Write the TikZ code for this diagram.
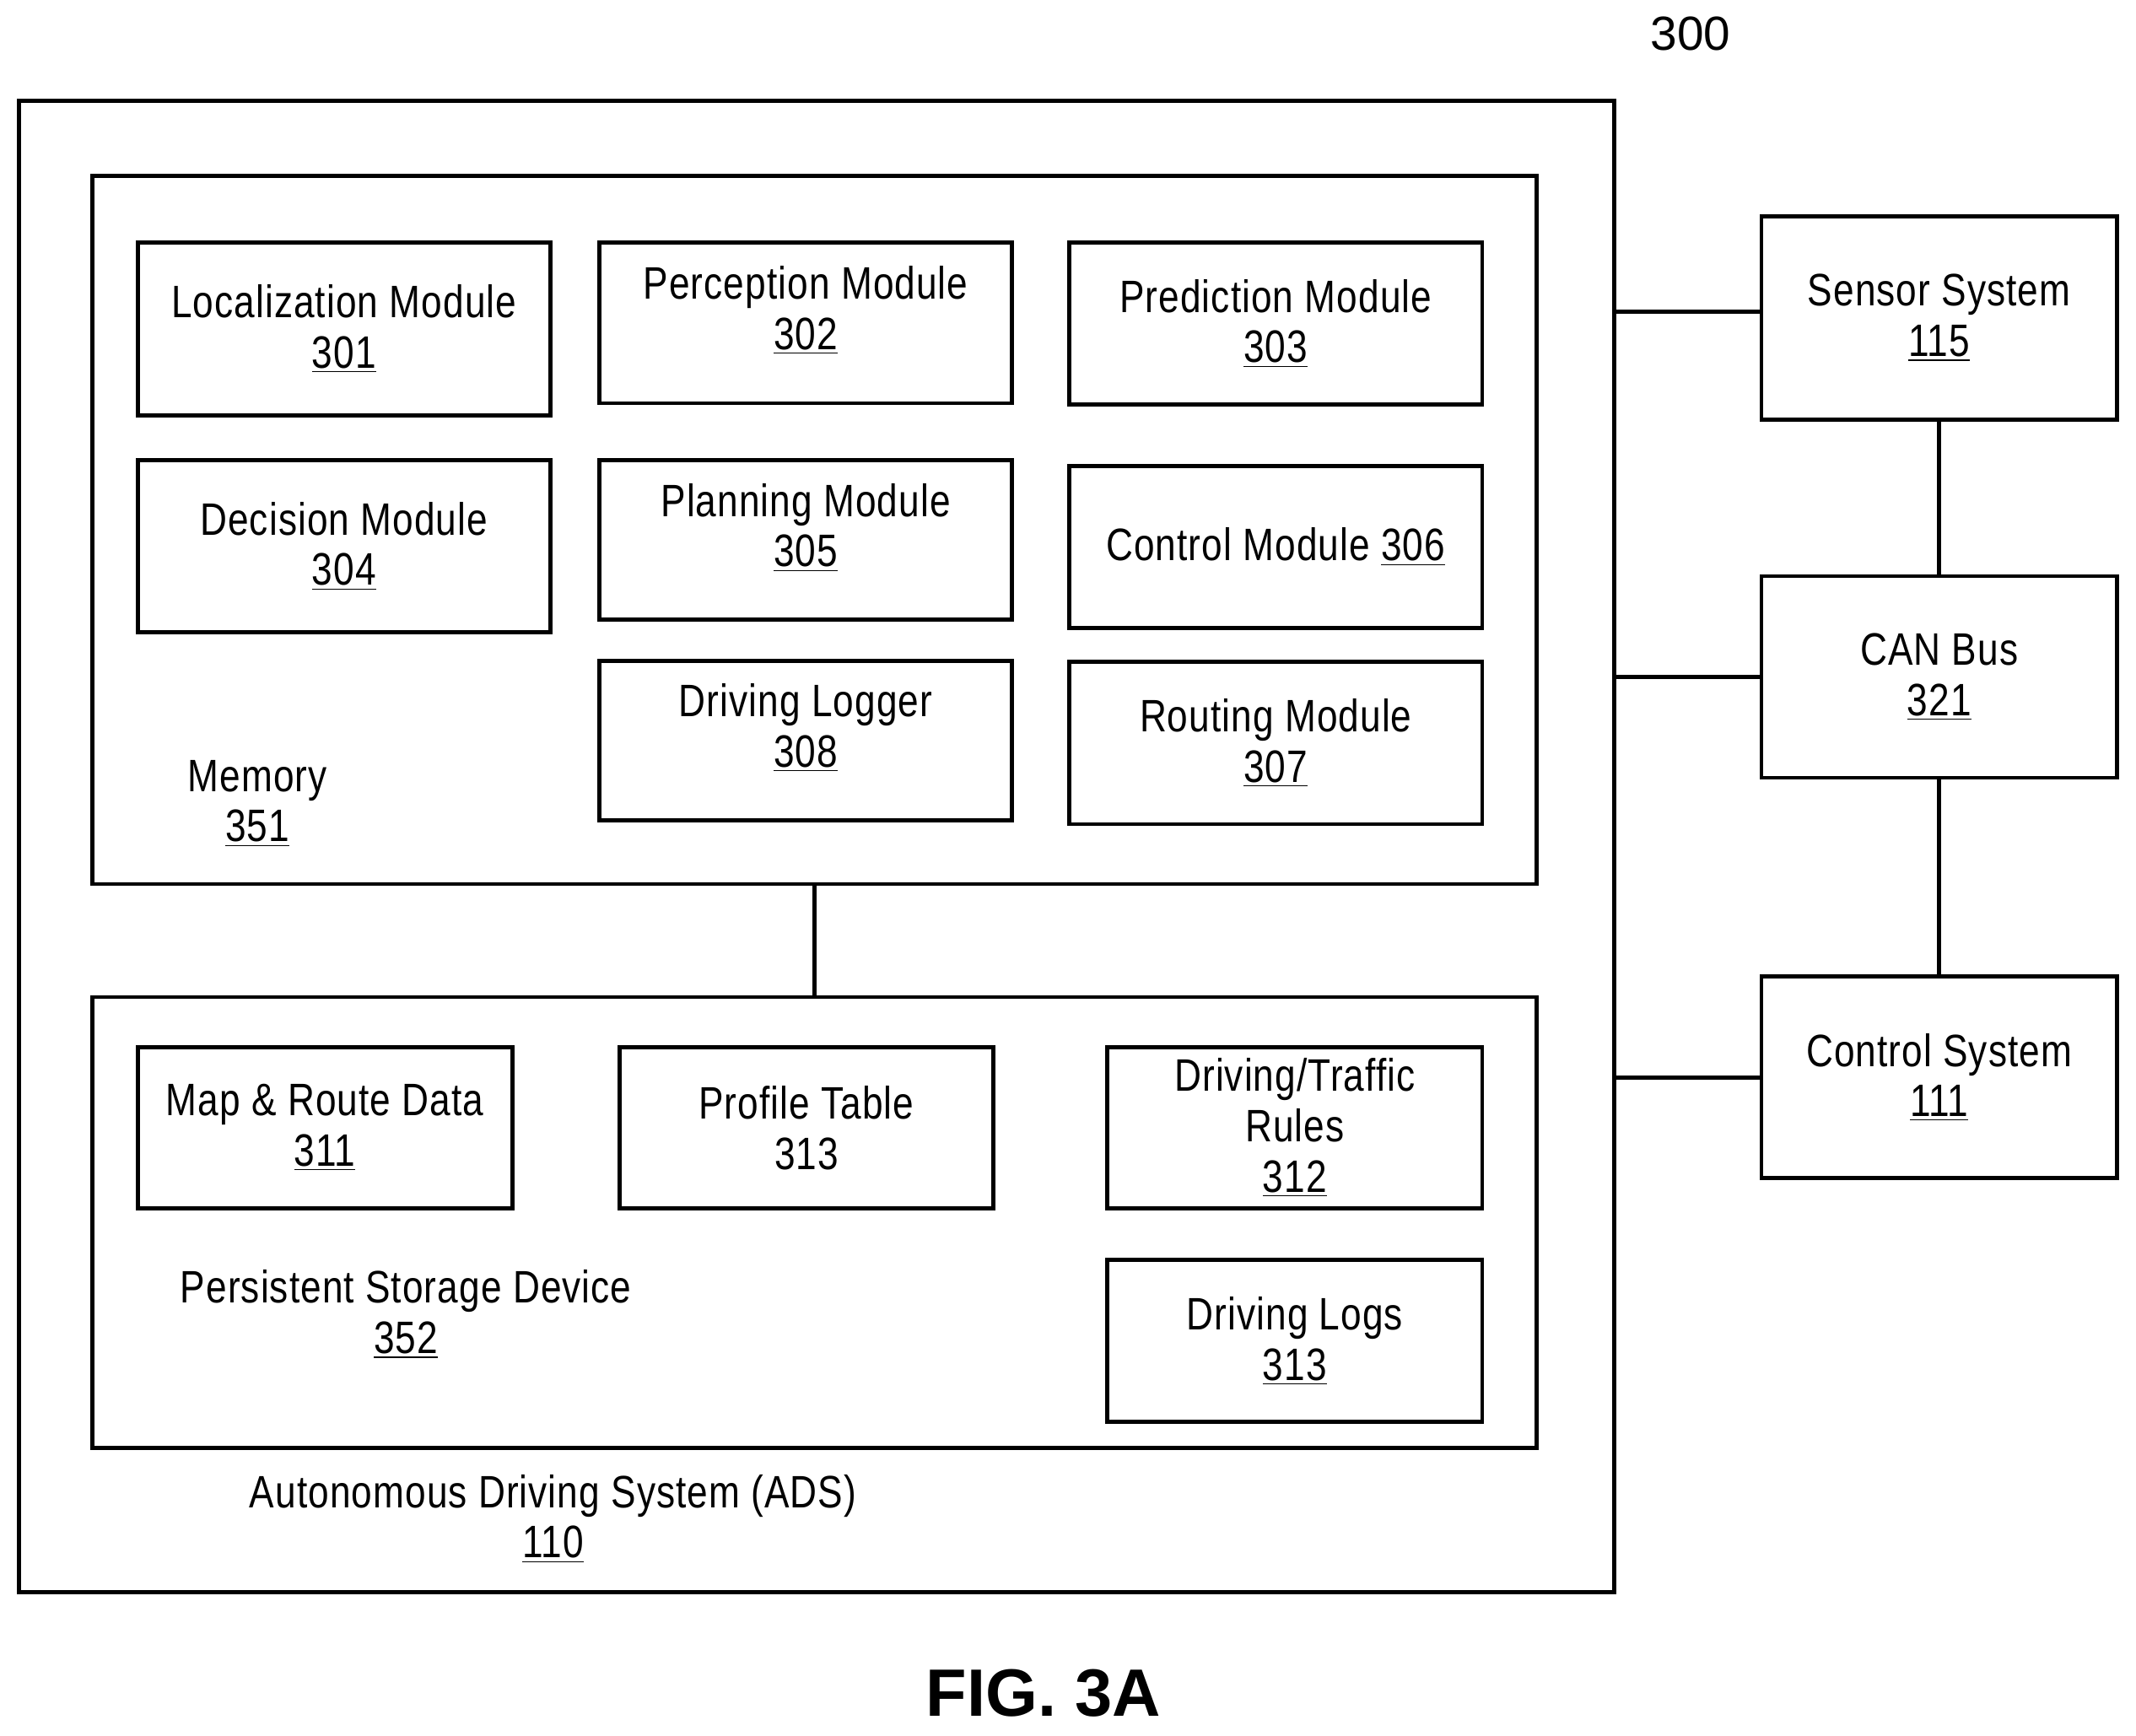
\documentclass[tikz,border=0pt]{standalone}
\usepackage{fontspec}
\setmainfont{Liberation Sans}[FakeStretch=0.82,LetterSpace=2]
\newfontfamily\figfont{Liberation Sans}
\usetikzlibrary{fit}
\tikzset{
  box/.style={draw,line width=1.7pt,inner sep=0pt},
  lbl/.style={align=center,font=\fontsize{19}{21}\selectfont},
  up/.style={yshift=0.18cm},
  link/.style={line width=1.7pt}
}
\begin{document}
\begin{tikzpicture}[x=0.02cm,y=-0.02cm]
\useasboundingbox (0,0) rectangle (1568,1274);

% containers
\node[box,fit={(14,74)(1185,1169)}] (ads) {};
\node[box,fit={(68,129)(1128,649)}] (mem) {};
\node[box,fit={(68,732)(1128,1063)}] (psd) {};

% memory modules
\node[box,fit={(101,178)(404,305)},label={[lbl]center:Localization Module\\\underline{301}}] (loc) {};
\node[box,fit={(440,178)(743,296)},label={[lbl,up]center:Perception Module\\\underline{302}}] (perc) {};
\node[box,fit={(785,178)(1088,297)},label={[lbl]center:Prediction Module\\\underline{303}}] (pred) {};
\node[box,fit={(101,338)(404,464)},label={[lbl]center:Decision Module\\\underline{304}}] (dec) {};
\node[box,fit={(440,338)(743,455)},label={[lbl,up]center:Planning Module\\\underline{305}}] (plan) {};
\node[box,fit={(785,342)(1088,461)},label={[lbl]center:Control Module \underline{306}}] (ctrl) {};
\node[box,fit={(440,485)(743,602)},label={[lbl,up]center:Driving Logger\\\underline{308}}] (dlog) {};
\node[box,fit={(785,486)(1088,605)},label={[lbl]center:Routing Module\\\underline{307}}] (rout) {};
\node[lbl] (memlbl) at (189,590) {Memory\\\underline{351}};

% storage contents
\node[box,fit={(101,769)(376,887)},label={[lbl]center:Map \& Route Data\\\underline{311}}] (map) {};
\node[box,fit={(455,769)(729,887)},label={[lbl]center:Profile Table\\313}] (prof) {};
\node[box,fit={(813,769)(1088,887)},label={[lbl]center:Driving/Traffic\\Rules\\\underline{312}}] (rules) {};
\node[box,fit={(813,925)(1088,1044)},label={[lbl]center:Driving Logs\\\underline{313}}] (logs) {};
\node[lbl] (psdlbl) at (298,965) {Persistent Storage Device\\\underline{352}};
\node[lbl] (adslbl) at (406,1115) {Autonomous Driving System (ADS)\\\underline{110}};

% vehicle systems
\node[box,fit={(1293,159)(1554,308)},label={[lbl]center:Sensor System\\\underline{115}}] (sens) {};
\node[box,fit={(1293,423)(1554,571)},label={[lbl]center:CAN Bus\\\underline{321}}] (can) {};
\node[box,fit={(1293,717)(1554,865)},label={[lbl]center:Control System\\\underline{111}}] (csys) {};

\draw[link] (mem.south) -- (psd.north);
\draw[link] (sens) -- (can) -- (csys);
\draw[link] (ads.east |- 0,229) -- (sens.west |- 0,229);
\draw[link] (ads.east |- can.west) -- (can.west);
\draw[link] (ads.east |- csys.west) -- (csys.west);

\node[font=\figfont\fontsize{20}{24}\selectfont] (num) at (1241,25) {300};
\node[font=\figfont\bfseries\fontsize{28}{34}\selectfont] (fig) at (766,1243) {FIG. 3A};
\end{tikzpicture}
\end{document}
